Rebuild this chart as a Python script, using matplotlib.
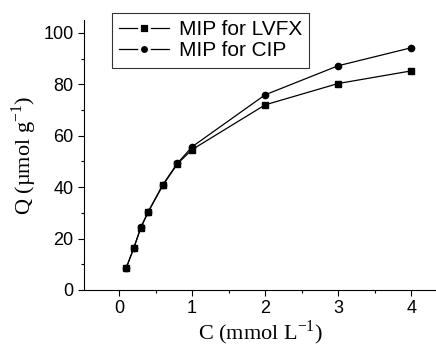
import matplotlib
matplotlib.use('Agg')
import matplotlib.pyplot as plt
from matplotlib.lines import Line2D
from matplotlib.ticker import MultipleLocator

# concentration C (mmol/L) and adsorption Q (umol/g)
C = [0.1, 0.2, 0.3, 0.4, 0.6, 0.8, 1, 2, 3, 4]
Q_lvfx = [8.7, 16.2, 24.3, 30.4, 40.7, 49.1, 54.6, 72.0, 80.3, 85.2]
Q_cip = [8.7, 16.2, 24.5, 30.5, 41.0, 49.3, 55.7, 75.9, 87.2, 94.2]

plt.rcParams['font.family'] = 'Liberation Sans'

fig = plt.figure(figsize=(4.36, 3.47), dpi=100)
ax = fig.add_axes([84/436, 1 - 290/347, (436 - 84)/436, (290 - 20)/347])

ax.plot(C, Q_lvfx, color='black', lw=0.9, marker='s', ms=4.5)
ax.plot(C, Q_cip, color='black', lw=0.9, marker='o', ms=4.5)

ax.set_xlim(-0.48, 4.34)
ax.set_ylim(0, 105)
ax.xaxis.set_major_locator(MultipleLocator(1))
ax.xaxis.set_minor_locator(MultipleLocator(0.5))
ax.yaxis.set_major_locator(MultipleLocator(20))
ax.yaxis.set_minor_locator(MultipleLocator(10))
ax.spines['top'].set_visible(False)
ax.spines['right'].set_visible(False)
ax.tick_params(which='major', direction='out', length=4, width=0.8, labelsize=13)
ax.tick_params(which='minor', direction='out', length=2.5, width=0.8)

ax.set_xlabel('C (mmol L$^{\\mathregular{-1}}$)', family='Liberation Serif', fontsize=16, labelpad=1)
ax.set_ylabel('Q (\u00b5mol g$^{\\mathregular{-1}}$)', family='Liberation Serif', fontsize=16, labelpad=3)

# legend handles: white marker edge makes the gap around the marker
handles = [
    Line2D([], [], color='black', lw=0.9, marker='s', ms=7, mec='white', mew=2, mfc='black'),
    Line2D([], [], color='black', lw=0.9, marker='o', ms=7, mec='white', mew=2, mfc='black'),
]
leg = fig.legend(handles, ['MIP for LVFX', 'MIP for CIP'], loc='upper left',
                 bbox_to_anchor=(112/436, 1 - 13/347), bbox_transform=fig.transFigure,
                 borderaxespad=0, fontsize=15, frameon=True, fancybox=False,
                 edgecolor='black', handlelength=2.4, borderpad=0.35,
                 labelspacing=0.1, handletextpad=0.45)
leg.get_frame().set_linewidth(0.8)

fig.savefig('out.png', dpi=100)
